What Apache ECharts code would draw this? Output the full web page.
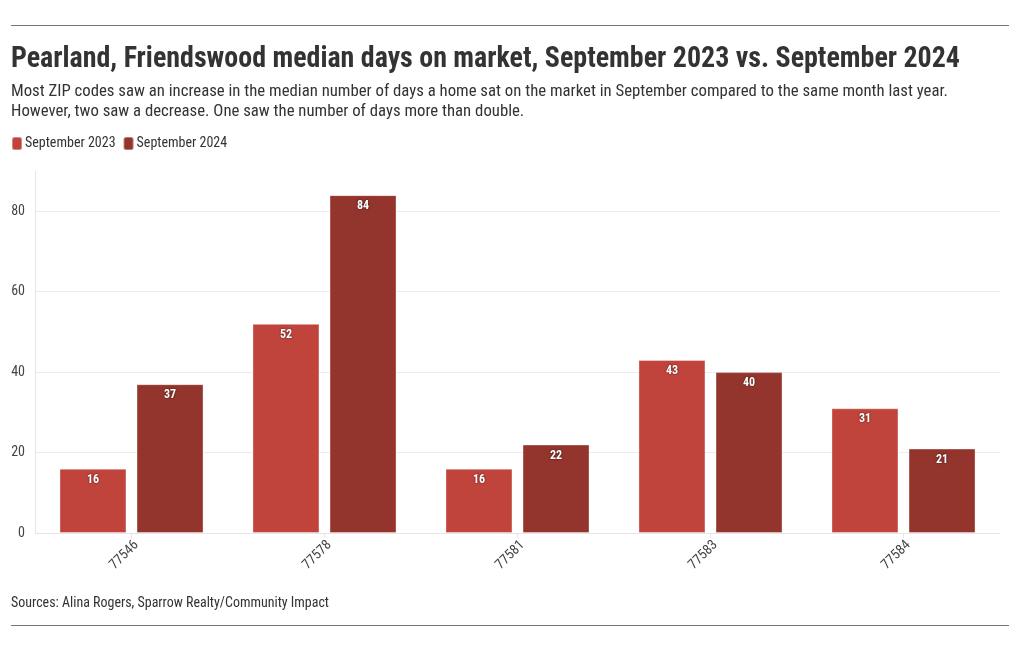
<!DOCTYPE html>
<html><head><meta charset="utf-8">
<script src="https://cdn.jsdelivr.net/npm/echarts@6/dist/echarts.min.js"></script>
<style>html,body{margin:0;padding:0;background:#fff}#c{width:1020px;height:650px}</style>
</head><body><div id="c"></div>
<script>
const categories = ['77546', '77578', '77581', '77583', '77584'];
const sept2023 = [16, 52, 16, 43, 31];
const sept2024 = [37, 84, 22, 40, 21];
const seriesNames = ['September 2023', 'September 2024'];
const yTicks = [0, 20, 40, 60, 80];

const titleText = 'Pearland, Friendswood median days on market, September 2023 vs. September 2024';
const subLine1 = 'Most ZIP codes saw an increase in the median number of days a home sat on the market in September compared to the same month last year.';
const subLine2 = 'However, two saw a decrease. One saw the number of days more than double.';
const sourceText = 'Sources: Alina Rogers, Sparrow Realty/Community Impact';

const FF = '"Roboto Condensed", Roboto, sans-serif';
const cv = document.createElement('canvas').getContext('2d');
function fitScale(text, font, target) { cv.font = font; return target / cv.measureText(text).width; }

const titleFont = 'bold 29px ' + FF;
const subFont = '16px ' + FF;
const srcFont = '14px ' + FF;
const sTitle = fitScale(titleText, titleFont, 949);
const sSub = fitScale(subLine1, subFont, 937);
const sSrc = fitScale(sourceText, srcFont, 318);

const chart = echarts.init(document.getElementById('c'), null, {renderer: 'canvas'});
const labelStyle = {
  show: true, position: 'insideTop', distance: 5, color: '#fff',
  fontFamily: FF, fontWeight: 'bold', fontSize: 12,
  textShadowColor: 'rgba(0,0,0,0.7)', textShadowBlur: 2
};
chart.setOption({
  animation: false,
  textStyle: {fontFamily: FF},
  graphic: [
    {type: 'line', shape: {x1: 11, y1: 25.5, x2: 1009, y2: 25.5}, style: {stroke: '#777', lineWidth: 1}},
    {type: 'line', shape: {x1: 11, y1: 625.5, x2: 1009, y2: 625.5}, style: {stroke: '#777', lineWidth: 1}},
    {type: 'text', x: 11, y: 45, scaleX: sTitle, style: {text: titleText, font: titleFont, fill: '#333'}},
    {type: 'text', x: 11, y: 84, scaleX: sSub, style: {text: subLine1, font: subFont, fill: '#333'}},
    {type: 'text', x: 11, y: 104, scaleX: sSub, style: {text: subLine2, font: subFont, fill: '#333'}},
    {type: 'text', x: 11, y: 596, scaleX: sSrc, style: {text: sourceText, font: srcFont, fill: '#333'}}
  ],
  legend: {
    left: 6, top: 131, itemWidth: 10, itemHeight: 13, itemGap: 7,
    icon: 'roundRect',
    textStyle: {fontSize: 14, color: '#333', fontFamily: FF, padding: [0, 0, 0, -2]},
    data: seriesNames
  },
  grid: {left: 35, right: 20, top: 171, bottom: 117, containLabel: false},
  xAxis: {
    type: 'category', data: categories,
    axisLine: {show: true, lineStyle: {color: '#e6e6e6'}},
    axisTick: {show: true, alignWithLabel: true, length: 5, lineStyle: {color: '#e6e6e6'}},
    axisLabel: {rotate: 45, color: '#444', fontSize: 14, margin: 5, verticalAlign: 'top', fontFamily: FF}
  },
  yAxis: {
    type: 'value', min: yTicks[0], max: 90, interval: 20,
    axisLine: {show: true, lineStyle: {color: '#e6e6e6'}},
    axisTick: {show: false},
    axisLabel: {color: '#444', fontSize: 14, margin: 10, fontFamily: FF, showMaxLabel: false},
    splitLine: {show: true, lineStyle: {color: ['#ececec', '#ececec', '#ececec', '#ececec', '#ececec', 'rgba(0,0,0,0)']}}
  },
  series: [
    {name: seriesNames[0], type: 'bar', data: sept2023, barWidth: 67, barGap: '15%',
     itemStyle: {color: '#c0443c', borderColor: 'rgba(255,255,255,0.35)', borderWidth: 1}, label: labelStyle},
    {name: seriesNames[1], type: 'bar', data: sept2024, barWidth: 67,
     itemStyle: {color: '#93352c', borderColor: 'rgba(255,255,255,0.35)', borderWidth: 1}, label: labelStyle}
  ]
});
</script></body></html>
